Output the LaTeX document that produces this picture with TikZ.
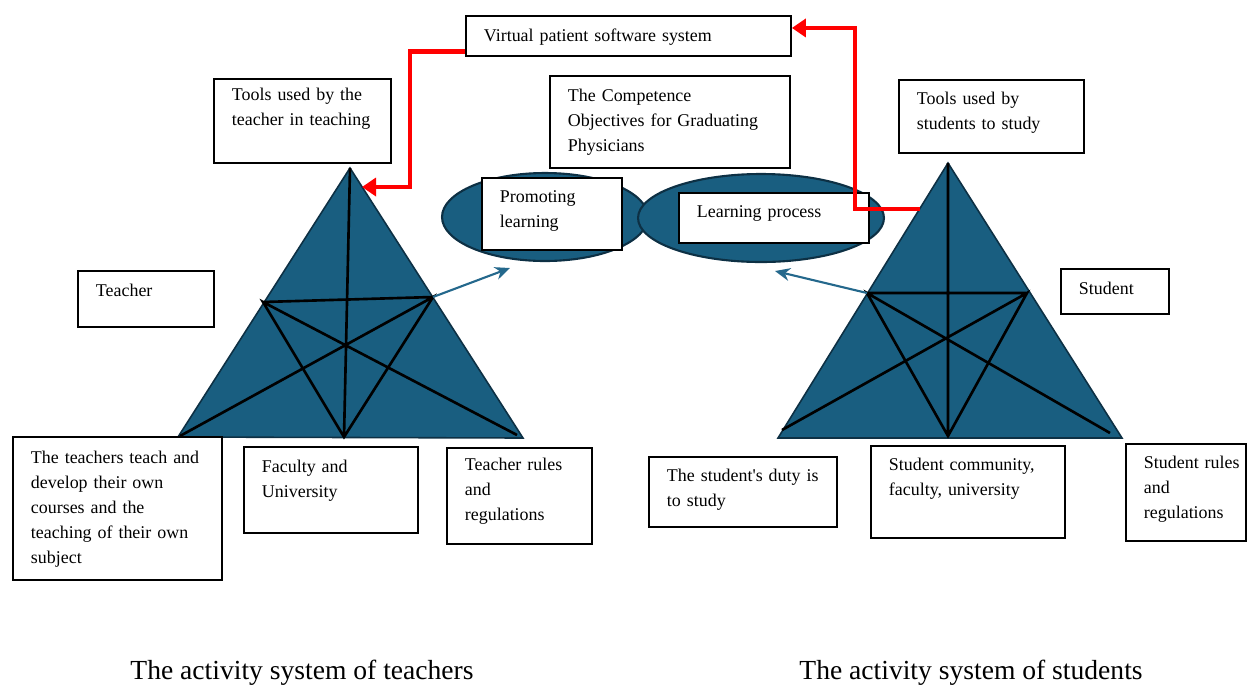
\documentclass[tikz,border=0pt]{standalone}
\usepackage{fontspec}
\setmainfont{Liberation Serif}
\usetikzlibrary{arrows.meta}
\definecolor{triblue}{RGB}{25,94,128}
\definecolor{triedge}{RGB}{13,48,68}
\definecolor{arrblue}{RGB}{36,104,140}

\begin{document}
\begin{tikzpicture}[x=0.02cm,y=-0.02cm,
  box/.style={draw,line width=1.1pt,fill=white,anchor=north west,inner sep=0pt,font=\fontsize{10.2}{14.2}\selectfont,
    execute at begin node={\raggedright\leftskip=0.36cm\relax}},
  tri/.style={fill=triblue,draw=triedge,line width=0.9pt},
  star/.style={line width=1.5pt,black},
  redarr/.style={line width=2.8pt,red,-{Triangle[length=0.28cm,width=0.36cm]}},
  bluearr/.style={line width=1.2pt,arrblue,-{Stealth[length=0.3cm,width=0.26cm]}},
  caption/.style={anchor=base,font=\fontsize{15.7}{18}\selectfont}]
\useasboundingbox (0,0) rectangle (1253,684);

% teachers triangle
\coordinate (tA) at (350,168);
\coordinate (tB) at (178,437);
\coordinate (tC) at (523,438);
\coordinate (tL) at (263,302);
\coordinate (tR) at (433,297);
\coordinate (tM) at (344,437);
\coordinate (tB2) at (180,436);
\coordinate (tC2) at (517,435);
\coordinate (tHit) at (362,187);
\coordinate (tGoal) at (510,268);
\draw[tri] (tA) -- (tB) -- (tC) -- cycle;
\draw[star] (tA) -- (tM) (tL) -- (tR) (tB2) -- (tR) -- (tM) -- (tL) -- (tC2);

% students triangle
\coordinate (sA) at (948,163);
\coordinate (sB) at (778,438);
\coordinate (sC) at (1122,438);
\coordinate (sL) at (867,293);
\coordinate (sR) at (1027,293);
\coordinate (sM) at (948,436);
\coordinate (sB2) at (782,430);
\coordinate (sC2) at (1110,433);
\coordinate (sHit) at (920,209);
\coordinate (sGoal) at (775,271);
\draw[tri] (sA) -- (sB) -- (sC) -- cycle;
\draw[star] (sA) -- (sM) (sL) -- (sR) (sB2) -- (sR) -- (sM) -- (sL) -- (sC2);

% object ellipses
\draw[tri,line width=1.2pt] (545,217) ellipse [x radius=2.06cm, y radius=0.88cm];
\draw[tri,line width=1.2pt] (761,218) ellipse [x radius=2.46cm, y radius=0.88cm];

% boxes
\node[box,text width=6.5cm,text height=0.52cm,text depth=0.28cm] (virtual) at (465,15) {Virtual patient software system};
\node[box,text width=3.54cm,text height=0.44cm,text depth=1.24cm] (toolsT) at (213,78) {Tools used by the\\teacher in teaching};
\node[box,text width=4.8cm,text height=0.52cm,text depth=1.32cm] (compet) at (549,75) {The Competence\\Objectives for Graduating\\Physicians};
\node[box,text width=3.7cm,text height=0.5cm,text depth=0.96cm] (toolsS) at (898,79) {Tools used by\\students to study};
\node[box,text width=2.8cm,text height=0.5cm,text depth=0.94cm] (promo) at (481,177) {Promoting\\learning};
\node[box,text width=3.8cm,text height=0.5cm,text depth=0.5cm] (lproc) at (678,192) {Learning process};
\node[box,text width=2.72cm,text height=0.52cm,text depth=0.6cm] (teacher) at (77,270) {Teacher};
\node[box,text width=2.16cm,text height=0.52cm,text depth=0.38cm] (student) at (1060,268) {Student};
\node[box,text width=4.18cm,text height=0.54cm,text depth=2.32cm] (tteach) at (12,436) {The teachers teach and\\develop their own\\courses and the\\teaching of their own\\subject};
\node[box,text width=3.48cm,text height=0.52cm,text depth=1.2cm] (faculty) at (243,446) {Faculty and\\University};
\node[box,text width=2.9cm,text height=0.46cm,text depth=1.46cm] (trules) at (446,447) {Teacher rules\\and\\regulations};
\node[box,text width=3.76cm,text height=0.5cm,text depth=0.9cm] (duty) at (648,456) {The student\textquotesingle s duty is\\to study};
\node[box,text width=3.88cm,text height=0.5cm,text depth=1.34cm] (scomm) at (870,445) {Student community,\\faculty, university};
\node[box,text width=2.4cm,text height=0.5cm,text depth=1.44cm] (srules) at (1125,443) {Student rules\\and\\regulations};

% connectors
\draw[redarr] ([yshift=0.1cm]virtual.south west) -- ++(-55,0) |- (tHit);
\draw[redarr] (sHit) -- ++(-65,0) |- ([yshift=0.16cm]virtual.east);
\draw[bluearr] (tR) -- (tGoal);
\draw[bluearr] (sL) -- (sGoal);

\node[caption] (capT) at (302,679) {The activity system of teachers};
\node[caption] (capS) at (971,679) {The activity system of students};
\end{tikzpicture}
\end{document}
